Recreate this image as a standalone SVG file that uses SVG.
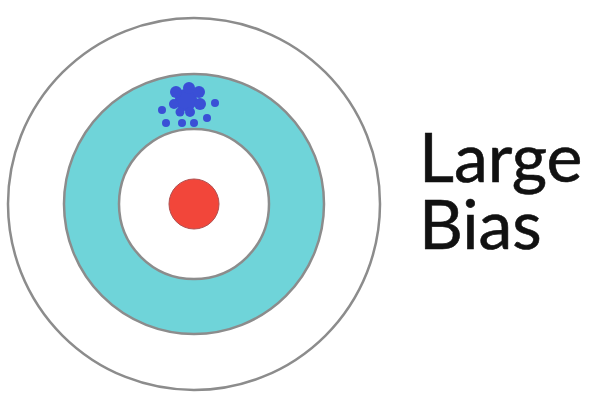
<svg xmlns="http://www.w3.org/2000/svg" width="600" height="402" viewBox="0 0 600 402">
<style>
.ring{stroke:#8c8c8c;stroke-width:2.5}
.dot{fill:#3a4fd6}
.lbl{font-family:Lato,"Open Sans",sans-serif;font-size:68px;fill:#111;stroke:#111;stroke-width:0.6}
</style>
<rect width="600" height="402" fill="#fff"/>
<g id="target">
<circle class="ring" cx="194" cy="204" r="186" fill="#fff"/>
<circle class="ring" cx="194" cy="204" r="130" fill="#6fd4d9"/>
<circle class="ring" cx="194" cy="204" r="75" fill="#fff"/>
<circle cx="194" cy="204" r="25" fill="#f2463a" stroke="#b05050" stroke-width="1"/>
</g>
<g id="shots">
<circle class="dot" cx="186" cy="100" r="11"/>
<circle class="dot" cx="176" cy="92" r="6"/>
<circle class="dot" cx="189" cy="88" r="6"/>
<circle class="dot" cx="199" cy="92" r="6"/>
<circle class="dot" cx="200" cy="104" r="6"/>
<circle class="dot" cx="174" cy="104" r="5"/>
<circle class="dot" cx="190" cy="112" r="5"/>
<circle class="dot" cx="180" cy="112" r="4.5"/>
<circle class="dot" cx="162" cy="110" r="4"/>
<circle class="dot" cx="166" cy="123" r="4"/>
<circle class="dot" cx="215" cy="103" r="4"/>
<circle class="dot" cx="207" cy="118" r="4"/>
<circle class="dot" cx="182" cy="123" r="4"/>
<circle class="dot" cx="194" cy="123" r="4"/>
</g>
<g id="label">
<text class="lbl" x="419" y="182">Large</text>
<text class="lbl" x="419" y="249">Bias</text>
</g>
</svg>
